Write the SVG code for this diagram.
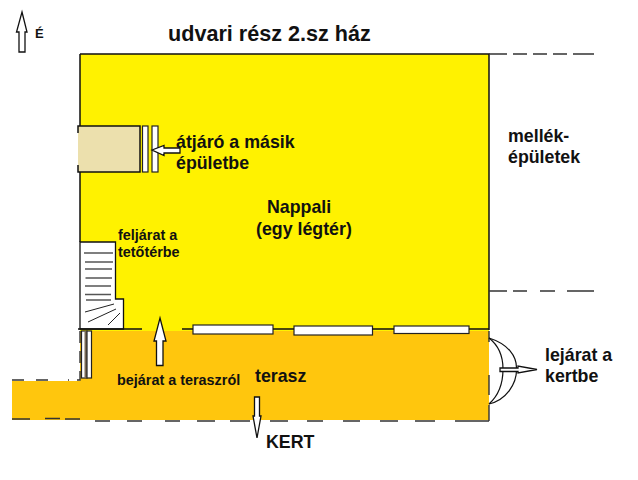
<svg xmlns="http://www.w3.org/2000/svg" width="638" height="480" viewBox="0 0 638 480">
<style>
text{font-family:"Liberation Sans",Arial,sans-serif;font-weight:bold;fill:#111}
.mid{font-size:17.8px}.sm{font-size:14.400px}
.w{fill:#fff;stroke:#222;stroke-width:1.2}
.arrow{fill:#fff;stroke:#111;stroke-width:1.3}
.l{stroke:#111;stroke-width:1.5;fill:none}
.d{stroke:#333;stroke-width:1.4;fill:none}
.c{stroke:#111;stroke-width:1.2;fill:none}
</style>
<rect width="638" height="480" fill="#fff"/>
<g id="nappali">
<rect x="80" y="54" width="409" height="277" fill="#fff200"/>
<path class="l" d="M80 54H489V330M80 54V242"/>
<text class="mid" x="267" y="213">Nappali</text>
<text class="mid" x="256" y="235">(egy légtér)</text>
</g>
<g id="terasz">
<path d="M80 331H489V420H12V381H80Z" fill="#ffc60d"/>
<text class="mid" x="255" y="382">terasz</text>
</g>
<g id="atjaro">
<rect x="78" y="126" width="62" height="46" fill="#ece0ad"/>
<path class="l" d="M78 133V126H140V172H78V165"/>
<rect class="w" x="142.500" y="126" width="5.500" height="46"/>
<rect class="w" x="152" y="126" width="6" height="46"/>
<path class="arrow" d="M152 150L164 145.500V148H180V153H164V155.500Z"/>
<text class="mid" x="176" y="148">átjáró a másik</text>
<text class="mid" x="176" y="169">épületbe</text>
</g>
<g id="lepcso">
<path d="M80 242H115.500V299H123.500V329H80Z" fill="#fff" stroke="#111" stroke-width="1.300"/>
<path d="M84 253H113M85 262H113M85 269H112M85.500 278H112M85 286H111M85 294.500H111M86 300H111" stroke="#555" stroke-width="1.500" fill="none"/>
<path d="M85 312L114 304M88 322L116 309M108 325L120 313" stroke="#222" stroke-width="1" fill="none"/>
<text class="sm" x="118" y="240">feljárat a</text>
<text class="sm" x="118" y="257">tetőtérbe</text>
</g>
<g id="ablakok">
<rect class="w" x="193" y="325" width="80" height="9"/>
<rect class="w" x="294" y="326" width="78.500" height="9"/>
<rect class="w" x="394" y="326" width="75" height="7.500"/>
</g>
<g id="bejarat">
<rect class="w" x="81.500" y="331" width="5.500" height="47"/>
<rect x="84.500" y="331" width="2.500" height="47" fill="#7a6a55"/>
<rect class="w" x="87" y="331" width="4.500" height="47"/>
<path class="arrow" d="M160 318L166 341H163V365.500H156.500V341H154Z"/>
<text class="sm" x="117" y="385">bejárat a teraszról</text>
</g>
<g id="connectors">
<path class="l" d="M78 329H142M182 329H193M273 329H294M372 329H394M469 329H489"/>
<path class="d" d="M489 54H507M513 54H527M533 54H547M553 54H567M573 54H594"/>
<path class="d" d="M489 291H507M513 291H527M540 291H555M567 291H594" stroke-width="1.200"/>
<path class="d" d="M80 331V380H68M48 380H36M24 380H12" stroke-dasharray="12 8"/>
<path class="d" d="M12 419H30M45 418.500H60M65 419H80M95 421H110M127 421H142M165 421H180M197 421H215M230 421H250M270 421H288M307 421H323M343 421H360M380 421H398M415 421H435M455 421H489M489 421V405M489 395V375M489 342V331" />
</g>
<g id="lejarat">
<path class="c" d="M489 338C508 344 517 356 516.500 369C517 384 506 400 489 404"/>
<path class="c" d="M489 338C498 345 503 356 503 369C503 384 498 396 489 404"/>
<path class="arrow" d="M537 369.500L518 366V368H500V371.500H518V373Z" stroke-width="1"/>
<text class="mid" x="545" y="361">lejárat a</text>
<text class="mid" x="545" y="382">kertbe</text>
</g>
<g id="kert">
<path class="arrow" d="M257 438L253 416H254.500V397H259.500V416H261Z"/>
<text class="mid" x="266" y="448">KERT</text>
</g>
<g id="eszak">
<path class="arrow" d="M22 12L27 32H25V52H19V32H16.500Z"/>
<text x="35" y="38" font-size="13">É</text>
</g>
<g id="cim">
<text x="168" y="41" font-size="21.600">udvari rész 2.sz ház</text>
</g>
<g id="mellek">
<text class="mid" x="508" y="142">mellék-</text>
<text class="mid" x="508" y="163">épületek</text>
</g>
</svg>
